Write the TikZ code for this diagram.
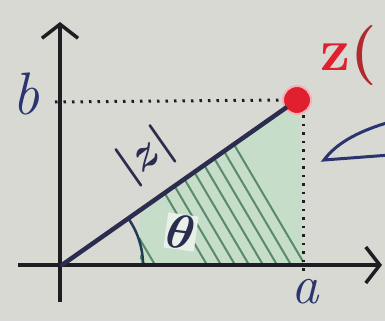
\documentclass[tikz,border=0pt]{standalone}
\usepackage{fontspec}
\usepackage{graphicx}
\usepackage{bm}
\usetikzlibrary{arrows.meta}
\definecolor{bg}{HTML}{D8D9D3}
\definecolor{ink}{HTML}{1E1E22}
\definecolor{navy}{HTML}{2C2C4E}
\definecolor{lbl}{HTML}{2A3570}
\definecolor{gfill}{HTML}{C6DDC9}
\definecolor{ghatch}{HTML}{5A8A6A}
\definecolor{zred}{HTML}{E0202E}
\definecolor{zdark}{HTML}{B02A30}
\definecolor{arcc}{HTML}{1F3D55}
\tikzset{
  axis/.style={ink,line width=3.5pt,-{Straight Barb[length=14pt,width=36pt,line width=3.5pt]}},
  dotline/.style={ink,line width=3pt,dash pattern=on 2.5pt off 6pt},
  lab/.style={lbl,font=\fontsize{60}{60}\selectfont\itshape},
}
\begin{document}
\begin{tikzpicture}[x=1pt,y=-1pt]
\fill[bg] (0,0) rectangle (385,321);
\useasboundingbox (0,0) rectangle (385,321);
\coordinate (O) at (62,265);
\coordinate (Xs) at (18,265);
\coordinate (Xe) at (382,265);
\coordinate (Ys) at (60,302);
\coordinate (Ye) at (60,22);
\coordinate (B) at (55,102);
\coordinate (A) at (303,275);
% green region
\begin{scope}
\clip (140,265) -- (140,210) -- (300,100) -- (303,265) -- cycle;
\fill[gfill] (130,90) rectangle (310,270);
\foreach \x in {146,156,208,222,236,250,264,278,292,306}
  \draw[ghatch,line width=2pt] (\x-110,80) -- (\x+15,292);
\end{scope}
% angle arc
\draw[arcc,line width=2.5pt] (143,265) arc[start angle=0,end angle=-35,radius=81];
% dotted lines
\node[circle,fill=zred,minimum size=28pt,inner sep=0pt,draw=zred!35,line width=2pt] (Z) at (297,100) {};
\draw[dotline] (B) -- (Z.west);
\draw[dotline] (Z.south -| A) -- (A);
% axes
\draw[axis] (Ys) -- (Ye);
\draw[axis] (Xs) -- (Xe);
% modulus line
\draw[navy,line width=4.5pt,line cap=round] (O) -- (Z.center);
\node[circle,fill=zred,minimum size=25pt,inner sep=0pt] (Z2) at (Z) {};
% labels
\node[lab] (lb) at (26,94) {b};
\node[lab,font=\fontsize{55}{55}\selectfont\itshape] (la) at (305,292) {a};
\node[navy,rotate=35,inner sep=0pt] (lz) at (146,156) {\scalebox{4.6}{$\bm{|z|}$}};
\node[fill=gfill!40!white,inner sep=1pt,rotate=-8,text=navy] (th) at (181,232) {\scalebox{4.8}{$\bm{\theta}$}};
\node[anchor=west,font=\fontsize{60}{60}\selectfont\bfseries,inner sep=0pt] (zt) at (320,56) {\textcolor{zred}{z}\textcolor{zdark}{(}};
% blue curve at right
\draw[lbl,line width=3pt,line cap=round] (390,122) .. controls (355,132) and (335,145) .. (324,160) -- (390,155);
\end{tikzpicture}
\end{document}
